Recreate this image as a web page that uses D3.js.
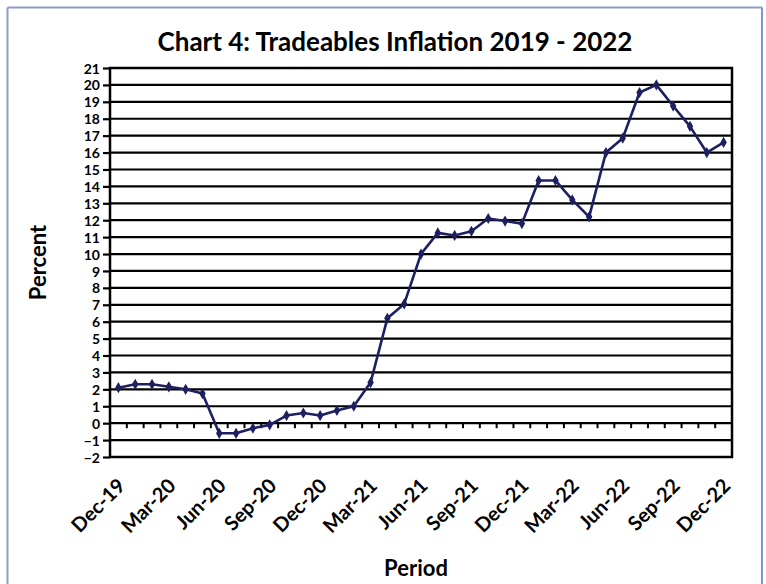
<!DOCTYPE html>
<html>
<head>
<meta charset="utf-8">
<script src="https://cdn.jsdelivr.net/npm/d3@7"></script>
<style>
  html, body { margin: 0; padding: 0; background: #fff; }
  svg { display: block; }
  text { font-family: "Lato", "DejaVu Sans", sans-serif; font-weight: bold; fill: #000; }
</style>
</head>
<body>
<svg id="chart" width="766" height="584"></svg>
<script>
// ---- data ----
const periods = ["Dec-19","Jan-20","Feb-20","Mar-20","Apr-20","May-20","Jun-20","Jul-20","Aug-20","Sep-20","Oct-20","Nov-20",
  "Dec-20","Jan-21","Feb-21","Mar-21","Apr-21","May-21","Jun-21","Jul-21","Aug-21","Sep-21","Oct-21","Nov-21",
  "Dec-21","Jan-22","Feb-22","Mar-22","Apr-22","May-22","Jun-22","Jul-22","Aug-22","Sep-22","Oct-22","Nov-22","Dec-22"];
const inflation = [2.1, 2.3, 2.3, 2.15, 2.0, 1.75, -0.6, -0.6, -0.3, -0.1, 0.45, 0.6,
  0.45, 0.75, 1.0, 2.4, 6.2, 7.05, 10.0, 11.25, 11.1, 11.35, 12.1, 11.95,
  11.8, 14.35, 14.35, 13.2, 12.2, 16.0, 16.85, 19.55, 20.0, 18.75, 17.55, 16.0, 16.6];
const xTickLabels = ["Dec-19","Mar-20","Jun-20","Sep-20","Dec-20","Mar-21","Jun-21","Sep-21","Dec-21","Mar-22","Jun-22","Sep-22","Dec-22"];
const yTicks = d3.range(-2, 22, 1);
const title = "Chart 4: Tradeables Inflation 2019 - 2022";
const yTitle = "Percent";
const xTitle = "Period";

// ---- layout ----
const svg = d3.select("#chart");
const L = 110, R = 732, T = 68, B = 457;
const lineColor = "#1c2060";

const x = d3.scaleBand().domain(periods).range([L, R]).paddingInner(0).paddingOuter(0);
const y = d3.scaleLinear().domain([-2, 21]).range([B, T]);
const cx = d => x(d) + x.bandwidth() / 2;

// outer frame
svg.append("line").attr("x1", 7.5).attr("y1", 7.5).attr("x2", 762).attr("y2", 7.5).attr("stroke", "#8c9cc8").attr("stroke-width", 2);
svg.append("line").attr("x1", 7.5).attr("y1", 7.5).attr("x2", 7.5).attr("y2", 584).attr("stroke", "#8c9cc8").attr("stroke-width", 2);
svg.append("line").attr("x1", 762).attr("y1", 7.5).attr("x2", 762).attr("y2", 584).attr("stroke", "#5a72c0").attr("stroke-width", 1.5);

// title
svg.append("text").attr("x", 395).attr("y", 51).attr("text-anchor", "middle")
  .style("font-size", "26px").text(title);

// gridlines
svg.append("g").selectAll("line").data(yTicks).join("line")
  .attr("x1", L).attr("x2", R).attr("y1", d => y(d)).attr("y2", d => y(d))
  .attr("stroke", "#000").attr("stroke-width", 2.2);

// y axis
const yAxis = d3.axisLeft(y).tickValues(yTicks).tickSize(7).tickPadding(3).tickFormat(d3.format("d"));
const gy = svg.append("g").attr("transform", `translate(${L},0)`).call(yAxis);
gy.select(".domain").remove();
gy.selectAll(".tick line").attr("stroke", "#000").attr("stroke-width", 2.2);
gy.selectAll(".tick text").style("font-size", "14px").style("font-family", "Lato, sans-serif").attr("dy", "0.36em");

// x axis ticks at zero line (between categories)
const boundaries = periods.slice(1);
svg.append("g").selectAll("line").data(boundaries).join("line")
  .attr("x1", d => x(d)).attr("x2", d => x(d))
  .attr("y1", y(0)).attr("y2", y(0) + 5)
  .attr("stroke", "#000").attr("stroke-width", 2);

// plot border
svg.append("rect").attr("x", L).attr("y", T).attr("width", R - L).attr("height", B - T)
  .attr("fill", "none").attr("stroke", "#000").attr("stroke-width", 2.5);

// x labels
const xAxis = d3.axisBottom(x).tickValues(xTickLabels).tickSize(0).tickPadding(0);
const gx = svg.append("g").attr("transform", `translate(0,${B})`).call(xAxis);
gx.select(".domain").remove();
gx.selectAll(".tick text")
  .style("font-size", "20px").style("font-family", "Lato, sans-serif")
  .attr("text-anchor", "end")
  .attr("dy", 0).attr("y", 0)
  .attr("transform", "translate(8,30) rotate(-45)");

// line
const data = periods.map((p, i) => ({ p, v: inflation[i] }));
svg.append("path").datum(data)
  .attr("fill", "none").attr("stroke", lineColor).attr("stroke-width", 2.6).attr("stroke-linejoin", "round")
  .attr("d", d3.line().x(d => cx(d.p)).y(d => y(d.v)));
svg.append("g").selectAll("path").data(data).join("path")
  .attr("d", d3.symbol().type(d3.symbolDiamond).size(36))
  .attr("transform", d => `translate(${cx(d.p)},${y(d.v)})`)
  .attr("fill", lineColor);

// axis titles
svg.append("text").attr("transform", `translate(46,${(T + B) / 2}) rotate(-90)`)
  .attr("text-anchor", "middle").style("font-size", "22px").text(yTitle);
svg.append("text").attr("x", 416).attr("y", 576).attr("text-anchor", "middle")
  .style("font-size", "22px").text(xTitle);
</script>
</body>
</html>
